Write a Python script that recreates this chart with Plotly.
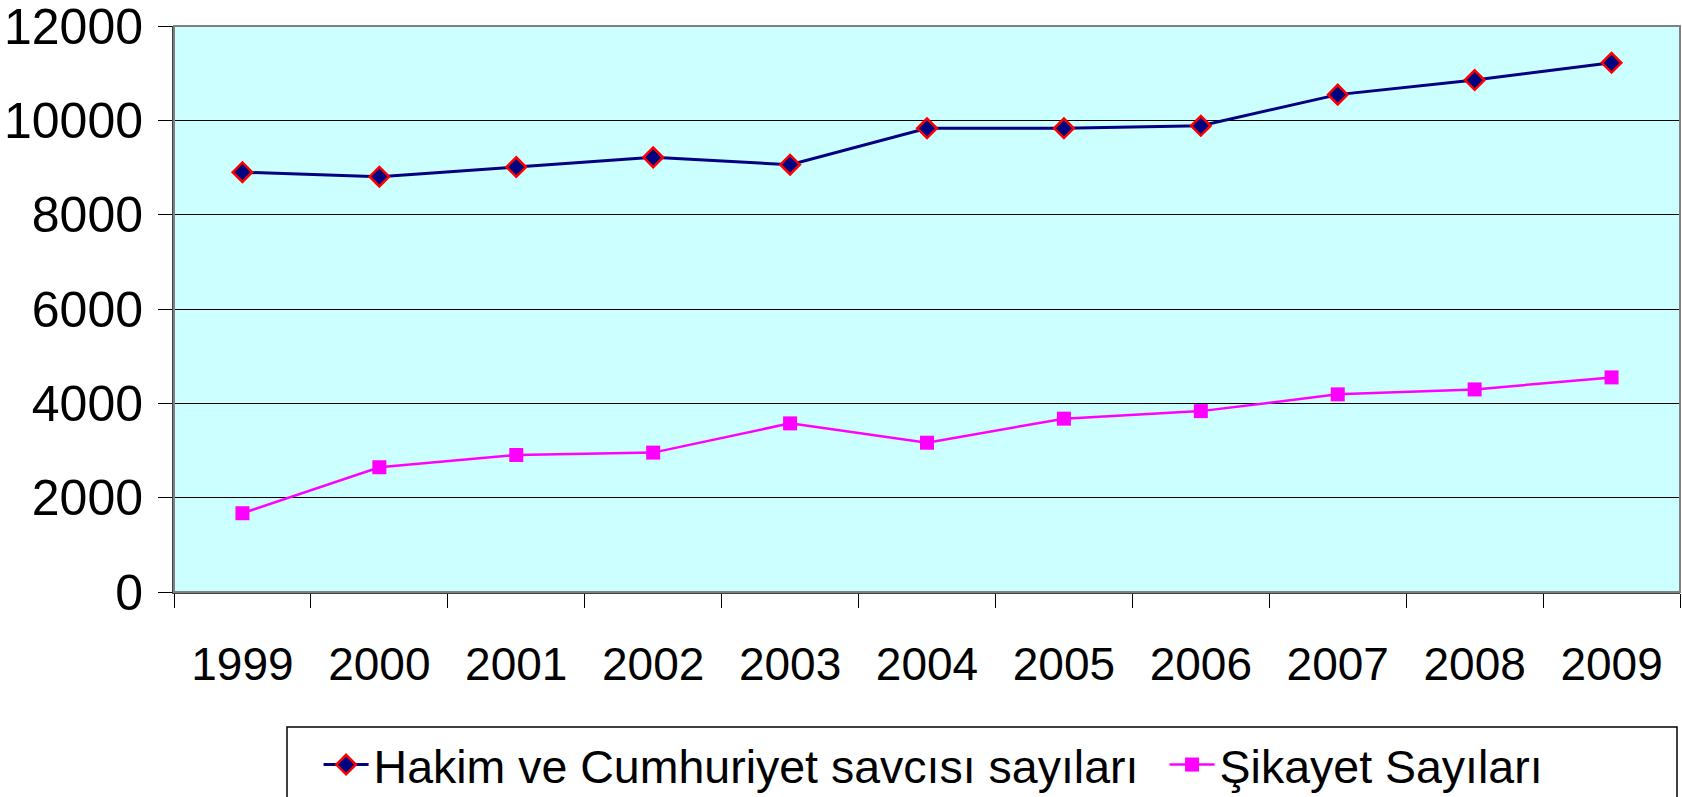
import plotly.graph_objects as go

years = ["1999", "2000", "2001", "2002", "2003", "2004", "2005", "2006", "2007", "2008", "2009"]
hakim = [8900, 8805, 9010, 9215, 9060, 9830, 9830, 9885, 10545, 10855, 11220]
sikayet = [1670, 2645, 2905, 2955, 3575, 3165, 3675, 3835, 4190, 4295, 4550]
y_ticks = [0, 2000, 4000, 6000, 8000, 10000, 12000]

FONT = "Liberation Sans, Arial, sans-serif"

fig = go.Figure()
fig.add_trace(go.Scatter(
    x=years, y=hakim, mode="lines+markers",
    name="Hakim ve Cumhuriyet savcısı sayıları",
    legendwidth=786,
    line=dict(color="#000080", width=3),
    marker=dict(symbol="diamond", size=15, color="#000080",
                line=dict(color="#FF0000", width=2.5)),
))
fig.add_trace(go.Scatter(
    x=years, y=sikayet, mode="lines+markers",
    name="Şikayet Sayıları",
    line=dict(color="#FF00FF", width=2.5),
    marker=dict(symbol="square", size=14, color="#FF00FF",
                line=dict(color="#FF00FF", width=0)),
))

fig.update_layout(
    width=1682, height=797,
    margin=dict(l=174, r=2, t=26, b=205, autoexpand=False),
    paper_bgcolor="white",
    plot_bgcolor="#CCFFFF",
    font=dict(family=FONT, color="black"),
    showlegend=True,
    legend=dict(
        orientation="h", x=0.096, xanchor="left", y=-0.24, yanchor="top",
        font=dict(family=FONT, size=46.5, color="black"),
        borderwidth=0, bgcolor="rgba(0,0,0,0)",
        itemwidth=45, tracegroupgap=0,
    ),
)
fig.update_xaxes(
    type="category", range=[-0.5, 10.5], automargin=False,
    tickson="boundaries", ticks="outside", ticklen=14, tickcolor="black", tickwidth=1,
    showgrid=False, showline=True, linecolor="#404040", linewidth=2,
    tickfont=dict(family=FONT, size=46, color="black"),
    ticklabelstandoff=31, ticklabeloverflow="allow",
    zeroline=False,
)
fig.update_yaxes(
    range=[0, 12000], tickvals=y_ticks, ticktext=[str(v) for v in y_ticks],
    automargin=False,
    ticks="outside", ticklen=14, tickcolor="black", tickwidth=1,
    showgrid=True, gridcolor="black", gridwidth=1,
    showline=True, linecolor="#404040", linewidth=2,
    tickfont=dict(family=FONT, size=50, color="black"),
    ticklabelstandoff=5, ticklabeloverflow="allow",
    zeroline=False,
)
# plot frame (top/right border)
fig.add_shape(type="rect", xref="paper", yref="paper", x0=0, x1=1, y0=0, y1=1,
              line=dict(color="#808080", width=2), layer="above")
# legend box
fig.add_shape(type="rect", xref="paper", yref="paper",
              x0=(287 - 174) / 1506, x1=(1677 - 174) / 1506,
              y0=(592 - 800) / 566, y1=(592 - 727) / 566,
              line=dict(color="black", width=1.5), layer="above")

fig.write_html("out.html", config={"displayModeBar": False},
               post_script="document.body.style.margin='0';")
